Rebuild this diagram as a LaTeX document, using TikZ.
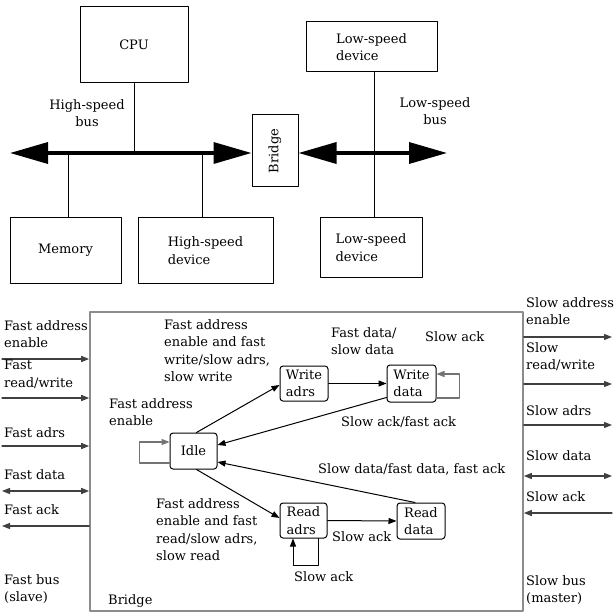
\documentclass[tikz,border=0pt]{standalone}
\usepackage{fontspec}
\setmainfont{DejaVu Serif}
\usetikzlibrary{arrows.meta}
\tikzset{
  box/.style={draw,line width=1pt,inner sep=0pt,align=left},
  state/.style={draw,line width=1pt,rounded corners=3pt,inner sep=0pt,align=left},
  bus/.style={line width=3.5pt,{Triangle[length=38pt,width=21pt]}-{Triangle[length=38pt,width=21pt]}},
  sig/.style={line width=1.2pt,black!75},
  lbl/.style={inner sep=0pt,align=left},
  loopline/.style={line width=1.2pt,black!55},
}
\begin{document}
\begin{tikzpicture}[line cap=round,line join=round,>={Triangle[length=8pt,width=6pt]},x=1pt,y=-1pt,
  font=\fontsize{13}{17.5}\selectfont]
\useasboundingbox (0,0) rectangle (615,612);
% upper part: the two buses
\node[box,minimum width=108,minimum height=76] (cpu) at (134,45) {CPU};
\node[box,minimum width=46,minimum height=72] (bridge) at (275,151) {\rotatebox{90}{Bridge}};
\node[box,minimum width=111,minimum height=65] (mem) at (65.5,250.5) {Memory};
\node[box,minimum width=135,minimum height=65] (hsdev) at (205.5,250.5) {High-speed\\device};
\node[box,minimum width=131,minimum height=50] (lsdev1) at (371.5,47) {Low-speed\\device};
\node[box,minimum width=102,minimum height=59] (lsdev2) at (371,247.5) {Low-speed\\device};
\coordinate (busL) at (10,153);
\coordinate (busR) at (447,153);
\draw[bus] (busL) -- (busL -| bridge.west);
\draw[bus] (busR -| bridge.east) -- (busR);
\draw[line width=1pt] (cpu.south) -- (cpu.south |- busL);
\draw[line width=1pt] ([xshift=2.5pt]mem.north) -- ([xshift=2.5pt]mem.north |- busL);
\draw[line width=1pt] ([xshift=-3.5pt]hsdev.north) -- ([xshift=-3.5pt]hsdev.north |- busL);
\draw[line width=1pt] ([xshift=2.5pt]lsdev1.south) -- ([xshift=3pt]lsdev2.north);
\node[lbl,align=center] (hsbus) at (87,113) {High-speed\\bus};
\node[lbl,align=center] (lsbus) at (435,111) {Low-speed\\bus};
% lower part: the bridge controller
\node[draw,black!45,line width=1.6pt,minimum width=433,minimum height=299] (bbox) at (306.5,461.5) {};
\foreach \y/\tip in {359/->,398/->,446/->,491/<->,526/<-}
  \draw[sig,\tip] (2,\y) -- (bbox.west |- 0,\y);
\foreach \y/\tip in {337/->,384/->,425/->,476/<->,513/<-}
  \draw[sig,\tip] (bbox.east |- 0,\y) -- (612,\y);
\node[lbl,anchor=north west] at (4,320) {Fast address\\enable};
\node[lbl,anchor=north west] at (4,360) {Fast\\read/write};
\node[lbl,anchor=west] at (4,433) {Fast adrs};
\node[lbl,anchor=west] at (4,475) {Fast data};
\node[lbl,anchor=west] at (4,510) {Fast ack};
\node[lbl,anchor=north west] at (4,574) {Fast bus\\(slave)};
\node[lbl,anchor=west] at (108,601) {Bridge};
\node[lbl,anchor=north west] at (526,297) {Slow address\\enable};
\node[lbl,anchor=north west] at (526,342) {Slow\\read/write};
\node[lbl,anchor=west] at (526,411) {Slow adrs};
\node[lbl,anchor=west] at (526,456) {Slow data};
\node[lbl,anchor=west] at (526,497) {Slow ack};
\node[lbl,anchor=north west] at (526,575) {Slow bus\\(master)};
% states
\node[state,minimum width=47,minimum height=36] (idle) at (193.5,451) {Idle};
\node[state,minimum width=48,minimum height=35] (wadrs) at (304,383.5) {Write\\adrs};
\node[state,minimum width=49,minimum height=37] (wdata) at (411.5,383.5) {Write\\data};
\node[state,minimum width=47,minimum height=35] (radrs) at (303.5,520.5) {Read\\adrs};
\node[state,minimum width=48,minimum height=36] (rdata) at (421,521) {Read\\data};
% transitions
\draw[line width=1pt,->] ([xshift=3pt]idle.north) -- ([yshift=-1.5pt]wadrs.west);
\draw[line width=1pt,->] ([xshift=3pt]idle.south) -- ([yshift=2.5pt]radrs.west);
\draw[line width=1pt,->] (wadrs.east) -- (wdata.west);
\draw[line width=1pt,->] (radrs.east) -- (rdata.west);
\draw[line width=1pt,->] ([yshift=5pt]wdata.south west) -- ([yshift=6pt]idle.east);
\draw[line width=1pt,->] ([xshift=-6pt]rdata.north) -- ([yshift=-11pt]idle.east);
\draw[loopline,->] ([yshift=-12pt]idle.west) -- ++(-30,0) |- ([yshift=9pt]idle.west);
\draw[loopline,->] ([yshift=-14.5pt]wdata.east) -- ++(23,0) |- ([yshift=9.5pt]wdata.east);
\draw[line width=1pt,->] ([xshift=14.5pt]radrs.south) -- ++(0,27) -| ([xshift=-10.5pt]radrs.south);
\node[lbl,anchor=north west] at (164,319) {Fast address\\enable and fast\\write/slow adrs,\\slow write};
\node[lbl,anchor=north west] at (109,398) {Fast address\\enable};
\node[lbl,anchor=north west] at (331,327) {Fast data/\\slow data};
\node[lbl,anchor=west] at (425,337) {Slow ack};
\node[lbl,anchor=west] at (341,422) {Slow ack/fast ack};
\node[lbl,anchor=west] at (318,469) {Slow data/fast data, fast ack};
\node[lbl,anchor=north west] at (156,498) {Fast address\\enable and fast\\read/slow adrs,\\slow read};
\node[lbl,anchor=west] at (332,537) {Slow ack};
\node[lbl,anchor=west] at (294,577) {Slow ack};
\end{tikzpicture}
\end{document}
